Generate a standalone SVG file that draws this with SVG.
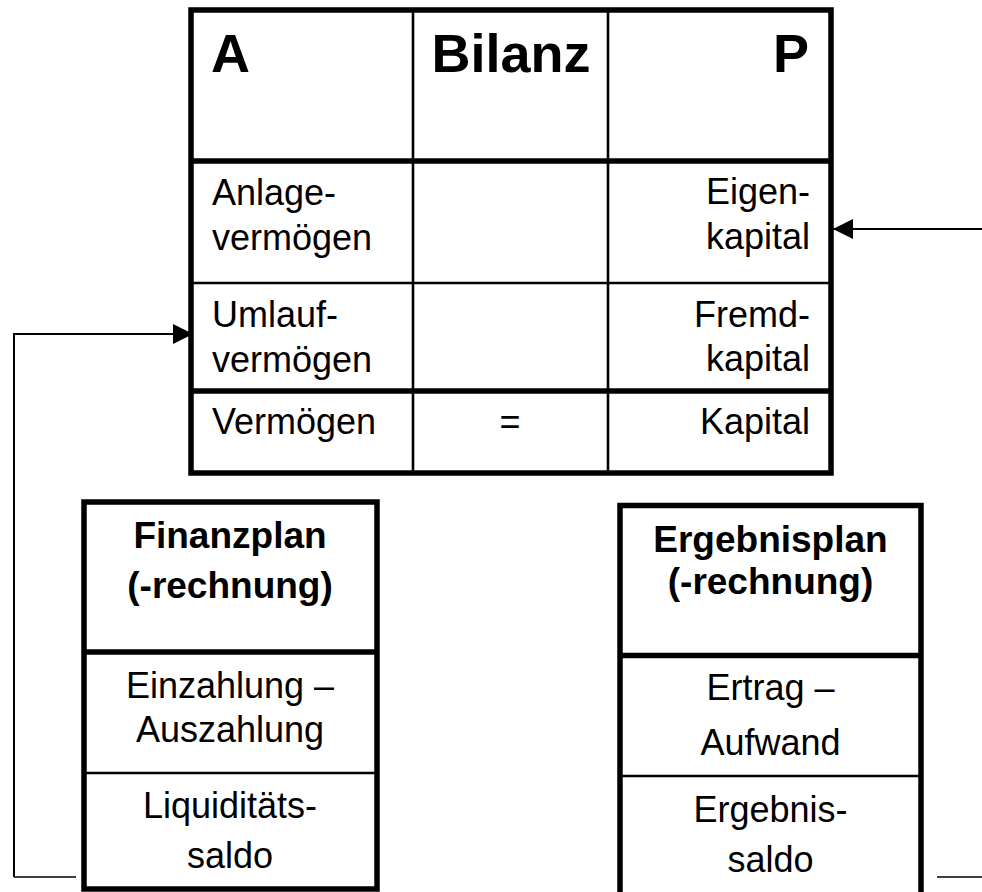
<svg xmlns="http://www.w3.org/2000/svg" width="982" height="892" viewBox="0 0 982 892">
<defs>
<style>
.thick{stroke:#000;stroke-width:5.5;fill:none}
.thin{stroke:#000;stroke-width:2.6;fill:none}
.conn{stroke:#000;stroke-width:2;fill:none}
.connb{stroke:#000;stroke-width:1.4;fill:none}
.t{font-family:"Liberation Sans",Arial,sans-serif;font-size:36px;fill:#000}
.h{font-family:"Liberation Sans",Arial,sans-serif;font-size:54px;font-weight:bold;fill:#000}
.hb{font-family:"Liberation Sans",Arial,sans-serif;font-size:37px;font-weight:bold;fill:#000;text-anchor:middle}
.m{text-anchor:middle}
.e{text-anchor:end}
</style>
<marker id="arr" viewBox="0 0 20 20" refX="20" refY="10" markerWidth="20" markerHeight="20" markerUnits="userSpaceOnUse" orient="auto">
<path d="M0,0 L20,10 L0,20 Z" fill="#000"/>
</marker>
</defs>
<rect width="982" height="892" fill="#fff"/>

<g id="bilanz">
<line class="thin" x1="413" y1="10" x2="413" y2="473"/>
<line class="thin" x1="608" y1="10" x2="608" y2="473"/>
<line class="thin" x1="191" y1="283" x2="831" y2="283"/>
<line class="thick" x1="191" y1="161" x2="831" y2="161"/>
<line class="thick" x1="191" y1="391" x2="831" y2="391"/>
<rect class="thick" x="191" y="10" width="640" height="463"/>
<text class="h" x="211" y="72">A</text>
<text class="h m" x="511" y="72">Bilanz</text>
<text class="h e" x="809" y="72">P</text>
<text class="t" x="212" y="205">Anlage-</text>
<text class="t" x="212" y="250">vermögen</text>
<text class="t e" x="810" y="204">Eigen-</text>
<text class="t e" x="810" y="249">kapital</text>
<text class="t" x="212" y="327">Umlauf-</text>
<text class="t" x="212" y="372">vermögen</text>
<text class="t e" x="810" y="327">Fremd-</text>
<text class="t e" x="810" y="371">kapital</text>
<text class="t" x="212" y="434">Vermögen</text>
<text class="t m" x="510" y="434">=</text>
<text class="t e" x="810" y="434">Kapital</text>
</g>

<g id="finanzplan">
<line class="thin" x1="84" y1="773" x2="377" y2="773"/>
<line class="thick" x1="84" y1="652" x2="377" y2="652"/>
<rect class="thick" x="84" y="502" width="293" height="387"/>
<text class="hb" x="230" y="548">Finanzplan</text>
<text class="hb" x="230" y="598">(-rechnung)</text>
<text class="t m" x="230" y="698">Einzahlung –</text>
<text class="t m" x="230" y="742">Auszahlung</text>
<text class="t m" x="230" y="818">Liquiditäts-</text>
<text class="t m" x="230" y="868">saldo</text>
</g>

<g id="ergebnisplan">
<line class="thin" x1="620" y1="776" x2="921" y2="776"/>
<line class="thick" x1="620" y1="655.5" x2="921" y2="655.5"/>
<rect class="thick" x="620" y="505.5" width="301" height="392"/>
<text class="hb" x="770.5" y="552">Ergebnisplan</text>
<text class="hb" x="770.5" y="594">(-rechnung)</text>
<text class="t m" x="770.5" y="700">Ertrag –</text>
<text class="t m" x="770.5" y="755">Aufwand</text>
<text class="t m" x="770.5" y="822">Ergebnis-</text>
<text class="t m" x="770.5" y="872">saldo</text>
</g>

<g id="connectors">
<polyline class="conn" points="14,877 14,334 193,334" marker-end="url(#arr)"/>
<line class="connb" x1="14" y1="877" x2="76" y2="877"/>
<line class="conn" x1="982" y1="229" x2="833" y2="229" marker-end="url(#arr)"/>
<line class="connb" x1="937" y1="877" x2="982" y2="877"/>
</g>
</svg>
